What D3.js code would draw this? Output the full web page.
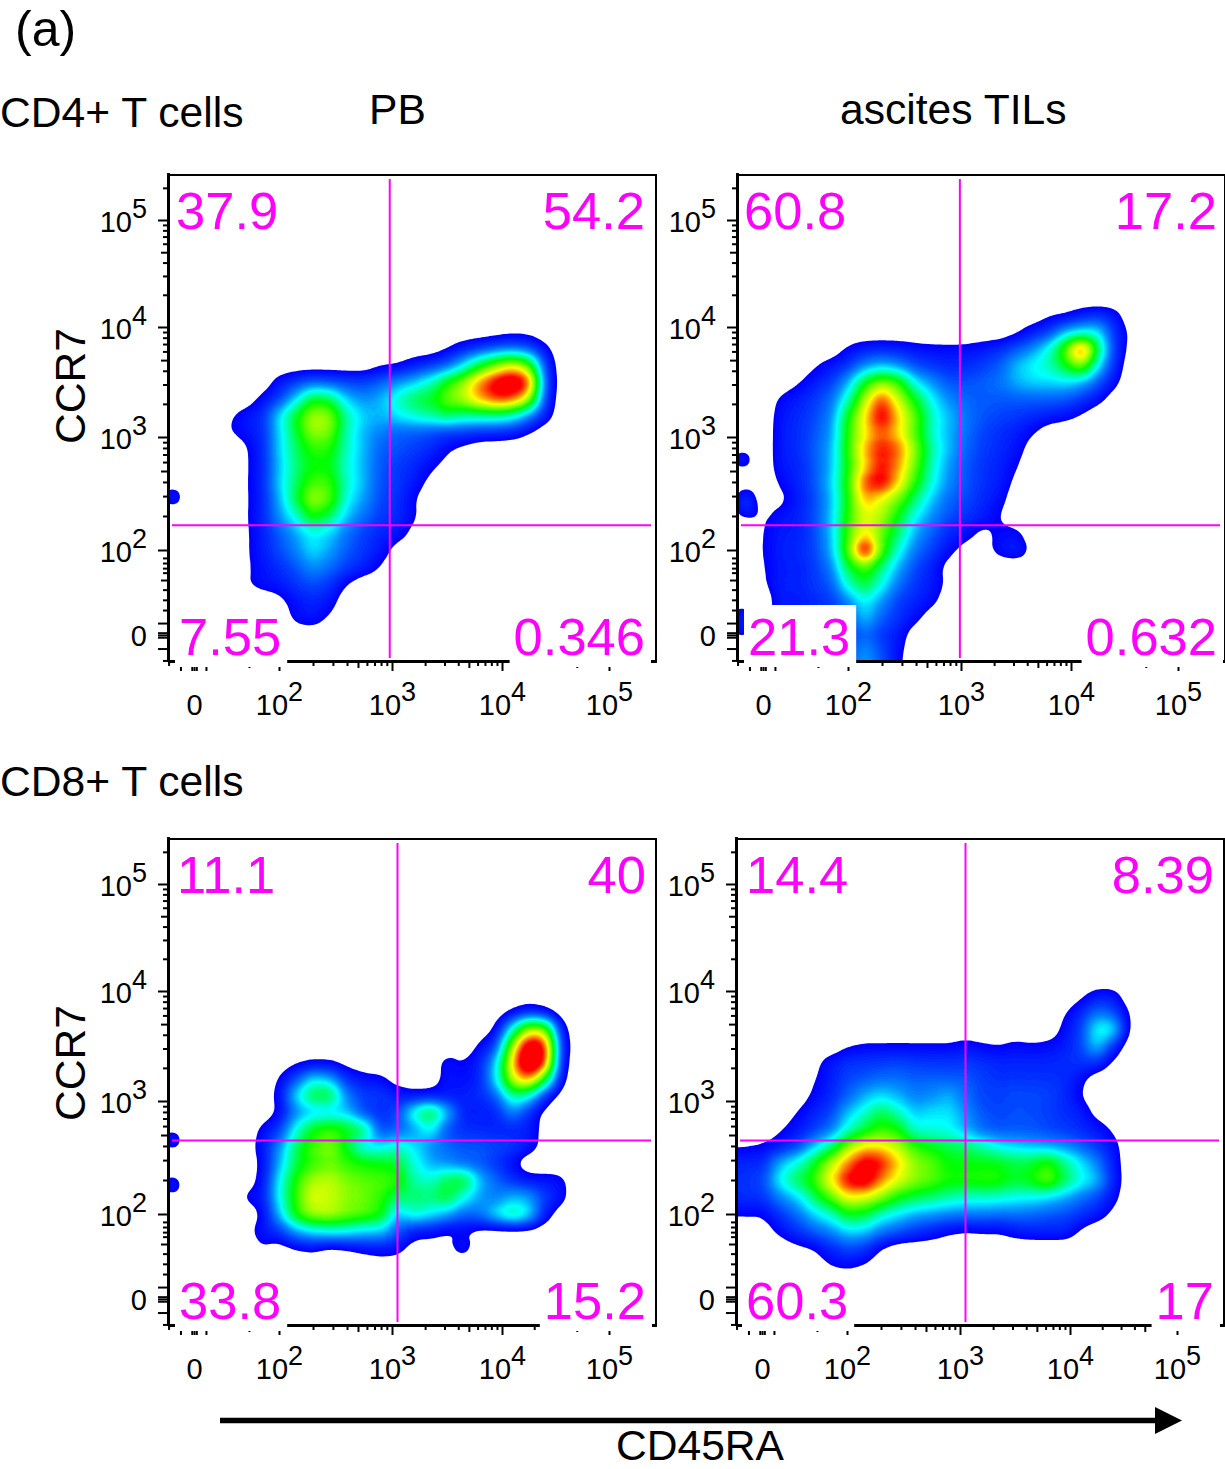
<!DOCTYPE html>
<html>
<head>
<meta charset="utf-8">
<title>CD45RA vs CCR7</title>
<script src="https://d3js.org/d3.v7.min.js"></script>
<style>
  body { margin: 0; background: #fff; }
  svg { display: block; }
  text { font-family: "Liberation Sans", Arial, sans-serif; fill: #000; }
  .quad { fill: #ff00ff; font-size: 52.5px; }
  .head { font-size: 42.6px; }
  .tick text { font-size: 29px; font-family: "Liberation Sans", Arial, sans-serif; fill: #000; }
</style>
</head>
<body>
<svg id="fig" width="1225" height="1469"></svg>
<script>
// axes are in decades of signal: 2 = 10^2 ... 5 = 10^5, and 1.25 is the "0" of the biexponential axis
var axisDecades = [1.02, 2, 3, 4, 5, 5.44];
var majorTicks = [2, 3, 4, 5];
var zeroTick = 1.25;
var lowLongTicks = [1.355, 1.13, 1.27, 1.23];
var lowMidTicks = [1.735];
var lowShortTicks = [1.93, 1.885, 1.84, 1.8, 1.65, 1.56, 1.47, 1.025];

var panelNames = ["PB CD4", "TIL CD4", "PB CD8", "TIL CD8"];
var gateX = [2.98, 2.99, 3.05, 3.05];
var gateY = [2.22, 2.22, 2.65, 2.65];
// upper left, upper right, lower left, lower right
var quadA = ["37.9", "54.2", "7.55", "0.346"];
var quadB = ["60.8", "17.2", "21.3", "0.632"];
var quadC = ["11.1", "40", "33.8", "15.2"];
var quadD = ["14.4", "8.39", "60.3", "17"];

// density, level 1 = deep blue ... 10 = red
// each row: [CCR7 decade, first CD45RA decade, levels every 0.15 decade]
var rowsA = [
  [3.95, 3.95, .1,.25,.2],
  [3.8, 3.5, .4,1,1.5,2,2.2,1.8,.7],
  [3.65, 2.9, .4,.5,1,1.5,2,3.5,5.5,7,8,6.5,1.5],
  [3.5, 2, .8,1.5,2,1.8,1.6,1.5,2,2.5,3,4,5.5,7,9,10.5,11,9.5,1.8],
  [3.35, 1.85, .7,1.5,3.3,5.5,5,3.2,2.5,3,4,5,5.5,6.5,7.5,9,10,9.5,7.5,1.5],
  [3.2, 1.55, .4,.8,1.3,3.3,5.5,7.5,7,4.4,3.2,3,3.5,4,4.5,5,4.5,4.5,4.5,4,2.5,1],
  [3.05, 1.55, .5,.8,1.3,3.3,5.5,7.5,7,4.4,3,2.5,2,2,1.8,1.5,1.5,1.3,1.2,1,.5],
  [2.9, 1.7, .35,1.2,3.2,5,6.2,6,4.2,3,2,1.8,1.5,1.2,.6,.3],
  [2.75, 1.7, .35,1.2,3.2,5,6,5.8,4.2,3,2,1.5,1.2,.7,.3],
  [2.6, 1.7, .35,1.2,3.2,5,6.5,6.2,4.2,3,1.8,1.4,.9,.3],
  [2.45, 1.7, .35,1.2,3,5.5,7.8,6.8,4,2.8,1.8,1.3,.6],
  [2.3, 1.7, .35,1.2,2.6,4,6,5,3.2,2.2,1.5,1.2,.6],
  [2.15, 1.7, .35,1.1,2,3,4,3.4,2.4,1.6,1.2,.9,.3],
  [2, 1.7, .35,1,1.7,2.5,3.5,2.8,2,1.4,.9,.2],
  [1.85, 1.7, .35,.9,1.3,2,2.8,2.3,1.6,1.1,.5],
  [1.7, 1.7, .4,.8,.9,1.4,1.8,1.4,.5],
  [1.55, 2, .3,.9,1.2,.9],
  [1.4, 2.15, .7,.9,.4],
  [1.25, 2.15, .1,.1]
];
var rowsB = [
  [4.1, 3.8, .4,.5,1,1.3,.9],
  [3.95, 3.5, .3,1,1.5,3,3.5,3.5,1.3,.3],
  [3.8, 2, .6,1,1.1,1,.8,.7,.7,.7,.9,1.2,1.8,2.5,3.8,6.5,10,5,1.4,.2],
  [3.65, 1.7, .4,.9,1.4,2.6,3.2,2.6,1.8,1.4,1.2,1.2,1.5,2,3,3.7,4.2,5.5,7,3.5,1.2],
  [3.5, 1.55, .4,.9,1.5,2.8,5.5,7,6,3.5,2.5,1.8,1.7,1.9,2.2,2.8,3.2,3.2,3.3,2.8,1.8,.7],
  [3.35, 1.4, .6,1,1.4,2.2,4,7.5,10,7.5,5.5,3.5,2.5,2,1.9,1.9,1.9,2,2,1.9,1.4,.8,.1],
  [3.2, 1.4, .8,1.2,1.6,2.5,5.5,8.5,11,8.5,6.5,4,3,2.2,1.8,1.6,1.4,1.2,1,.8,.4],
  [3.05, 1.4, .9,1.3,1.8,2.8,6,8.5,10,8.5,6.5,4,3,2.2,1.6,1.3,1,.6,.1],
  [2.9, 1.4, .9,1.3,1.9,3,6,9,10.5,9.5,7,4.3,3,2,1.5,1.2,.8,.2],
  [2.75, 1.4, .9,1.2,1.9,3.2,6,9,11,9.5,7,4.2,2.8,1.9,1.4,1.1,.6],
  [2.6, 1.4, .6,1.1,1.8,3.3,6,10,11,8.5,6,3.8,2.5,1.8,1.3,1,.3],
  [2.45, 1.4, .3,1,1.7,3.2,6,9.5,8.5,7,5,3.2,2.2,1.7,1.2,.8,.1],
  [2.3, 1.25, .4,.8,1.1,1.7,3.2,6,8,7.5,5.5,3.7,2.5,1.8,1.3,1,.5],
  [2.15, 1.25, .55,1,1.1,1.7,3.3,6.5,9,7,5,3,2,1.2,.8,.3,.7,.7,.1],
  [2, 1.25, .55,1,1.2,1.6,3,6.5,11.5,6.5,3.8,2.3,1.5,.7,.2,.15,.8,1.1,.3],
  [1.85, 1.25, .5,1,1.1,1.5,2.6,5.5,7,5,3,1.8,1,.2],
  [1.7, 1.25, .4,1,1.1,1.4,2,4,5.5,3.8,2.2,1.4,.9,.3],
  [1.55, 1.4, 1,1,1.2,1.6,2.6,4,2.8,1.6,1.2,.7,.1],
  [1.4, 1.4, 1,1,1.2,1.4,1.8,3.2,2,1.3,.7,.1],
  [1.25, 1.85, 1.2,1.5,2.2,1.5,.9,.1],
  [1.1, 1.85, 1.2,1.8,2.8,1.8,.7],
  [.95, 2, 2,3,2,.6]
];
var rowsC = [
  [3.8, 4.1, .6,1.2,.8],
  [3.65, 3.95, .6,4,7.5,7,.9],
  [3.5, 3.8, .6,1.6,7,11,10,1.2],
  [3.35, 2.15, .3,.55,.5,.2,0,0,0,0,0,.8,.5,1.1,3.2,8.5,12,10,1],
  [3.2, 2, .5,1.8,3.5,3,1.3,.8,.7,.1,0,0,.8,.7,1.1,3.5,7.5,9,5.5,.7],
  [3.05, 1.85, .1,.7,3.5,5.5,5.5,2.5,1.5,1.5,1,.8,.9,.9,1,1.2,2,4.5,3.8,1.2,.1],
  [2.9, 2, .6,2.5,3.2,3.2,3.2,1.7,1.2,1.6,4,5.5,3,1,.9,1.1,2.5,1.2,.2],
  [2.75, 1.85, .7,1.5,4,6,6.5,6,5,1.8,2,2.8,4,1.8,1.3,1.2,1.1,1.1,1,.2],
  [2.6, 1.85, .9,2.5,5,6.5,7,5.5,3.5,3.5,4,3.4,2.5,2,1.8,1.8,1.6,1.4,.9,.2],
  [2.45, 1.85, .7,3,5.5,6.5,7,6.5,6,6,5.5,4,3,2.6,2.2,2,1.4,.7],
  [2.3, 1.85, .8,3.5,6,7.5,7.5,7,6.5,6.5,6,4.2,4,5,5.5,3,2,1.2,.8,.8,.7],
  [2.15, 1.7, .6,1,3.8,6.5,8.5,8,7.5,7,6.5,5,5,5,5.5,4,2.8,2.4,3,2.8,1.5,.8],
  [2, 1.85, .6,3,6,7.5,7.5,7,6.5,6,3,4,3.5,2.8,2,2.2,3.5,4.5,3.5,.9,.1],
  [1.85, 1.7, .2,.9,1.5,3,3.8,4,4,3.5,3.5,2,1,.9,.5,.6,.3,.2,.2,.2],
  [1.7, 1.85, .5,.1,.5,.7,.3,.5,.8,.9,.8,.1,.1,.3,.9],
  [1.55, 2.9, .2,.1]
];
var rowsD = [
  [3.95, 4.1, .3,.9,.9],
  [3.8, 3.95, .4,1.1,2.2,1.8,.4],
  [3.65, 3.95, .7,1.5,3.8,3.7,.3],
  [3.5, 2, .4,.6,.6,.6,.6,.6,.6,.8,.6,.5,.7,.6,.7,.9,1.5,3.2,1.2],
  [3.35, 1.7, .2,.9,1.3,1.4,1.5,1.6,1.5,1.4,1.4,1.4,1.3,1.1,1.1,1.1,1.1,1.2,1.3,1.3,.3],
  [3.2, 1.7, .4,1,1.6,1.9,2.2,2.2,2,2,2,1.9,1.5,1.3,1.3,1.3,1.3,1.2,.7],
  [3.05, 1.55, .1,.6,1.2,2,3,3.5,3,2.5,2.6,3.1,2.2,1.6,1.6,1.7,1.7,1.6,1.2,.5],
  [2.9, 1.55, .5,1,1.6,3,4,5.2,4.2,3.2,3.4,3.5,2.6,1.8,1.6,1.7,1.7,1.5,1.2,1,.2],
  [2.75, 1.4, .4,.9,1.5,2.4,4,5.5,6.5,6,4.2,4,4,3,2.2,1.9,1.9,1.9,1.7,1.5,1.2,.9,.4],
  [2.6, .95, .45,.45,.6,.9,1.6,3,4.6,7,8.5,8.5,7.5,6.2,5.5,5.2,4.8,4.2,3.6,3.2,3,2.8,2.5,2,1.4,.8],
  [2.45, .95, 1.2,1.2,1.3,3,4.2,5.5,8,9.5,11.5,11,9,7.5,6.8,6,5.8,5.8,5.8,5.2,5.5,6.3,4.8,3.5,2.5,1],
  [2.3, .95, 1.3,1.3,1.7,3.6,5.2,6,8.5,10.5,11.5,9.5,8,7.2,6.5,6,5.8,6,6,5.2,5.7,6.8,5,3.7,3,1.1],
  [2.15, .95, 1.3,1.3,1.5,2.5,3.5,5,7,8.5,8.5,7.5,6,5.5,5,4.7,4.2,4.2,4.2,3.8,3.8,3.5,3,2.3,1.7,.8],
  [2, .95, .6,.6,.6,1.3,2.2,3.2,4.2,5.5,5.5,4.2,3.5,3,2.7,2.5,2.3,2.3,2.2,2.2,2.1,1.9,1.7,1.3,.9,.3],
  [1.85, 1.25, .1,.7,1.4,2,2.7,3.5,3.5,2.5,2,1.5,1.1,.7,.5,.6,.6,.9,1.1,1.1,1.1,.4],
  [1.7, 1.55, .3,.5,1.2,1.7,1.5,.5],
  [1.55, 1.85, .55,.7,.5]
];
// small separate specks near the left edge: [CD45RA decade, CCR7 decade, level]
var specksA = [[1.06, 2.47, 1.2]];
var specksB = [[1.1, 2.47, 1.1], [1.1, 2.36, 1.1], [1.07, 2.8, 1.15], [1.06, 1.43, 1], [1.06, 1.3, 1]];
var specksC = [[1.055, 2.655, 1.2], [1.055, 2.257, 1.2]];
var specksD = [];

var allRows = [rowsA, rowsB, rowsC, rowsD];
var allSpecks = [specksA, specksB, specksC, specksD];
var allQuads = [quadA, quadB, quadC, quadD];

// layout
var W = 488, H = 486, cellPx = 16.5;
var frames = [[168, 175], [737, 175], [168, 839], [736, 839]];
var quadLeft = [[8, 11], [7, 11], [9, 11], [10, 10]];
var quadRight = [11, 8, 10, 10];
var topBase = 54, lowBase = 480;

var levelStops = [.5, 1.5, 2.5, 3.5, 4.5, 5.5, 7, 8, 9, 10];
var colourStops = ["#0000ff", "#0040ff", "#0090ff", "#00ffff", "#00ff80", "#00ff00", "#a0ff00", "#ffff00", "#ff8000", "#ff0000"];
var colour = d3.scaleLinear().domain(levelStops).range(colourStops).clamp(true);
var levels = d3.range(.5, 10.6, .12);

var x = d3.scaleLinear().domain(axisDecades).range([0, 111, 224, 334, 441, 488]);
var y = d3.scaleLinear().domain(axisDecades).range([486, 375, 262, 152, 45, -2]);

var svg = d3.select("#fig");

function decadeMinors() {
  var small = [], mid = [];
  majorTicks.forEach(function(d) {
    d3.range(2, 10).forEach(function(k) {
      var v = d + Math.log10(k);
      if (v > 5.44) return;
      if (k == 5) mid.push(v); else small.push(v);
    });
  });
  return { small: small.concat(lowShortTicks), mid: mid.concat(lowMidTicks) };
}

function drawAxis(g, scale, makeAxis) {
  var minors = decadeMinors();
  g.append("g").call(makeAxis(scale).tickValues(minors.small).tickSize(5).tickSizeOuter(0).tickFormat(""));
  g.append("g").call(makeAxis(scale).tickValues(minors.mid).tickSize(7).tickSizeOuter(0).tickFormat(""));
  g.append("g").call(makeAxis(scale).tickValues(lowLongTicks).tickSize(10).tickSizeOuter(0).tickFormat(""));
  var main = g.append("g").call(makeAxis(scale)
    .tickValues([zeroTick].concat(majorTicks)).tickSize(10).tickSizeOuter(0).tickPadding(8).tickFormat(""));
  g.selectAll(".domain").attr("stroke-width", 3);
  g.selectAll(".tick line").attr("stroke-width", 2);
  main.selectAll(".tick text").each(function(d) {
    var t = d3.select(this).text(null);
    if (d == zeroTick) { t.append("tspan").text("0"); return; }
    t.append("tspan").text("10");
    t.append("tspan").attr("dy", -14).style("font-size", "27px").text(d);
  });
  return main;
}

panelNames.forEach(function(name, i) {
  var g = svg.append("g").attr("transform", "translate(" + frames[i] + ")");
  var clipId = "clip" + i;
  g.append("clipPath").attr("id", clipId).append("rect").attr("width", W).attr("height", H);

  var points = [];
  allRows[i].forEach(function(r) {
    r.slice(2).forEach(function(v, k) {
      if (v > 0) points.push({ x: r[1] + k * .15, y: r[0], w: v });
    });
  });
  allSpecks[i].forEach(function(s) { points.push({ x: s[0], y: s[1], w: s[2] }); });

  var density = d3.contourDensity()
    .x(function(d) { return x(d.x); })
    .y(function(d) { return y(d.y); })
    .weight(function(d) { return d.w; })
    .size([W, H])
    .cellSize(2)
    .bandwidth(7.5)
    .thresholds(levels.map(function(l) { return l / (cellPx * cellPx); }));

  g.append("g").attr("clip-path", "url(#" + clipId + ")")
    .selectAll("path").data(density(points)).join("path")
    .attr("d", d3.geoPath())
    .attr("fill", function(d) { return colour(d.value * cellPx * cellPx); });

  // gates
  g.append("line").attr("x1", x(gateX[i])).attr("x2", x(gateX[i])).attr("y1", 4).attr("y2", H - 3)
    .attr("stroke", "#ff00ff").attr("stroke-width", 2);
  g.append("line").attr("x1", 4).attr("x2", W - 5).attr("y1", y(gateY[i])).attr("y2", y(gateY[i]))
    .attr("stroke", "#ff00ff").attr("stroke-width", 2);

  // frame and axes
  g.append("rect").attr("width", W).attr("height", H).attr("fill", "none").attr("stroke", "#000").attr("stroke-width", 2);
  var left = g.append("g");
  var yMain = drawAxis(left, y, d3.axisLeft);
  yMain.selectAll(".tick text").attr("dx", -1).attr("dy", 11).attr("x", -20);
  var bottom = g.append("g").attr("transform", "translate(0," + H + ")");
  var xMain = drawAxis(bottom, x, d3.axisBottom);
  xMain.selectAll(".tick text").attr("y", 54).attr("dy", 0);
  xMain.selectAll(".tick text tspan:first-child").attr("dy", 0);

  // percentages, the lower two have a white box behind them
  var q = allQuads[i];
  [0, 1, 2, 3].forEach(function(k) {
    var isLeft = k % 2 == 0, isTop = k < 2;
    var px = isLeft ? quadLeft[i][isTop ? 0 : 1] : W - quadRight[i];
    var t = g.append("text").attr("class", "quad")
      .attr("x", px).attr("y", isTop ? topBase : lowBase)
      .attr("text-anchor", isLeft ? "start" : "end").text(q[k]);
    if (!isTop) {
      var len = t.node().getComputedTextLength();
      var x0 = isLeft ? px : px - len;
      g.insert("rect", "text.quad")
        .attr("x", x0 - 4).attr("y", 430).attr("width", len + 10).attr("height", 62).attr("fill", "#fff");
    }
  });
});

// headings
function head(str, px, py, anchor) {
  return svg.append("text").attr("class", "head").attr("x", px).attr("y", py)
    .attr("text-anchor", anchor || "start").text(str);
}
head("(a)", 15, 46).style("font-size", "50px");
head("CD4+ T cells", 0, 127);
head("PB", 369, 124);
head("ascites TILs", 840, 124);
head("CD8+ T cells", 0, 796);
head("CD45RA", 700, 1460, "middle");
[386, 1063].forEach(function(cy) {
  svg.append("text").attr("class", "head").attr("text-anchor", "middle")
    .attr("transform", "translate(85," + cy + ") rotate(-90)").text("CCR7");
});

// arrow under the lower panels
svg.append("line").attr("x1", 220).attr("x2", 1160).attr("y1", 1420.5).attr("y2", 1420.5)
  .attr("stroke", "#000").attr("stroke-width", 5.5);
svg.append("path").attr("d", d3.line()([[1155, 1407], [1182, 1420.5], [1155, 1434]]) + "Z").attr("fill", "#000");
</script>
</body>
</html>
